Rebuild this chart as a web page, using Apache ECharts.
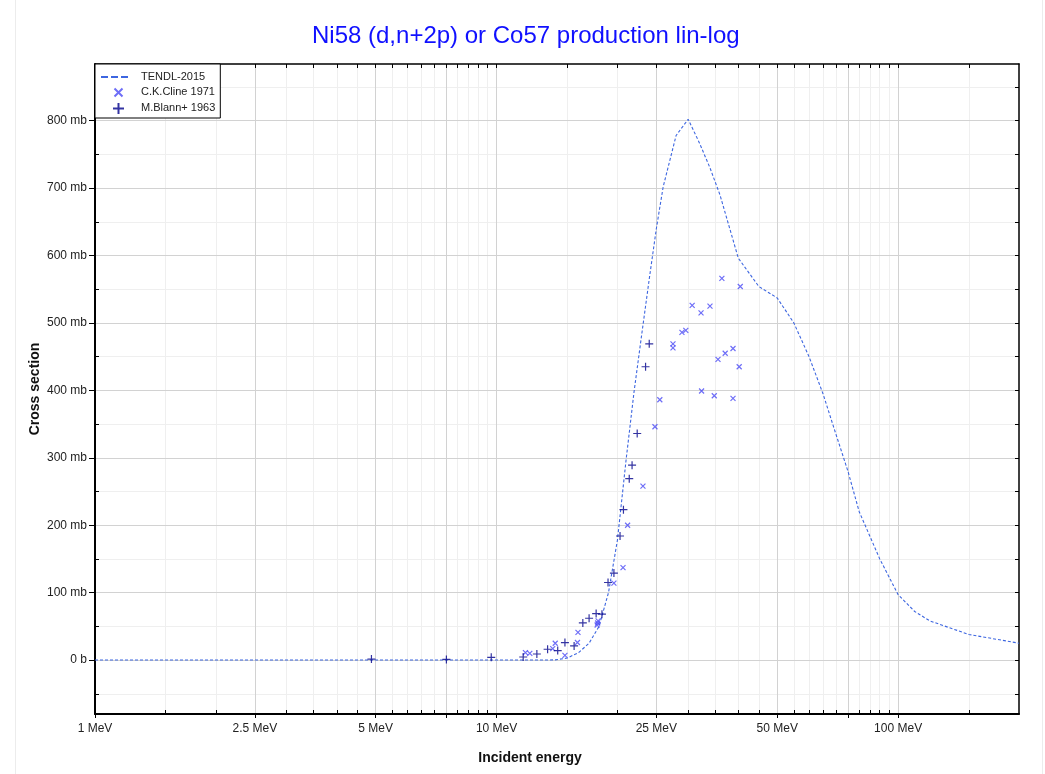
<!DOCTYPE html>
<html>
<head>
<meta charset="UTF-8">
<script src="https://cdn.jsdelivr.net/npm/echarts@6/dist/echarts.min.js"></script>
<style>
  html, body { margin: 0; padding: 0; background: #fff; }
  #chart { width: 1045px; height: 774px; }
</style>
</head>
<body>
<div id="chart"></div>
<script>
// TENDL-2015 evaluation: [energy MeV, cross section mb]
var tendlEnergy = [1, 2, 5, 10, 13, 14, 15, 16, 17, 18, 19, 20, 21, 22, 23, 24, 25, 26, 28, 30,
                   32, 34, 36, 40, 45, 50, 55, 60, 65, 70, 75, 80, 90, 100, 110, 120, 150, 200];
var tendlXs = [0, 0, 0, 0, 0, 0.3, 3, 11, 25, 50, 100, 178, 295, 398, 484, 565, 640, 702, 778, 802,
               767, 730, 690, 596, 554, 537, 500, 450, 395, 335, 280, 220, 150, 97, 72, 58, 38, 25];

// C.K.Cline 1971
var clineEnergy = [11.8, 12.1, 13.8, 14.0, 14.8, 15.9, 15.95, 17.8, 17.85, 17.9, 19.6, 20.65, 21.2,
                   23.15, 24.8, 25.5, 27.5, 27.5, 28.95, 29.6, 30.7, 32.3, 34.0, 32.4, 34.85,
                   35.6, 37.1, 38.8, 38.8, 40.2, 36.4, 40.45];
var clineXs = [11, 10, 17, 25, 7, 26, 41, 52, 55, 58, 114, 137, 200,
               258, 346, 386, 469, 463, 486, 489, 526, 515, 525, 399, 392,
               446, 455, 462, 388, 435, 566, 554];

// M.Blann+ 1963
var blannEnergy = [4.88, 7.5, 9.7, 11.65, 12.6, 13.4, 14.2, 14.8, 15.6, 16.4, 17.0, 17.7, 18.3,
                   18.95, 19.6, 20.3, 20.7, 21.4, 21.75, 22.4, 23.5, 24.0];
var blannXs = [1.5, 1, 4, 4.5, 9, 16, 14, 26, 21, 55, 62, 69, 68,
               115, 129, 184, 223, 269, 289, 336, 435, 469];

// axis ticks
var xLabelTicks = [1, 2.5, 5, 10, 25, 50, 100];
var xMajorTicks = [1, 2.5, 5, 7.5, 10, 25, 50, 75, 100];
var xMinorTicks = [1.5, 2, 3, 3.5, 4, 4.5, 5.5, 6, 6.5, 7, 8, 8.5, 9, 9.5,
                   15, 20, 30, 35, 40, 45, 55, 60, 65, 70, 80, 85, 90, 95, 150];
var yMajorTicks = [0, 100, 200, 300, 400, 500, 600, 700, 800];
var yMinorTicks = [-50, 50, 150, 250, 350, 450, 550, 650, 750, 850];

function pairs(xs, ys) {
  var out = [];
  for (var i = 0; i < xs.length; i++) out.push([xs[i], ys[i]]);
  return out;
}

var FONT = 'Liberation Sans, Arial, sans-serif';
var xAll = xMajorTicks.concat(xMinorTicks).sort(function (a, b) { return a - b; });
var yAll = yMajorTicks.concat(yMinorTicks).sort(function (a, b) { return a - b; });

var chart = echarts.init(document.getElementById('chart'));
var xBase = { type: 'log', logBase: 10, min: 1, max: 200, gridIndex: 0 };
var yBase = { type: 'value', min: -80, max: 884, gridIndex: 0 };

var option = {
  backgroundColor: '#fff',
  animation: false,
  title: {
    text: 'Ni58 (d,n+2p) or Co57 production lin-log',
    left: 312,
    top: 24,
    padding: 0,
    textStyle: { color: '#1010ff', fontSize: 24, fontWeight: 'normal', fontFamily: FONT }
  },
  legend: {
    left: 95,
    top: 64,
    orient: 'vertical',
    padding: [7, 5, 3, 5],
    itemGap: 2,
    itemWidth: 35,
    itemHeight: 12,
    borderColor: '#000',
    borderWidth: 1,
    backgroundColor: '#fff',
    textStyle: { fontSize: 11, color: '#222', fontFamily: FONT },
    data: [
      { name: 'TENDL-2015', icon: 'path://M0,0 M35,12 M0,5h7v2h-7z M10,5h7v2h-7z M20,5h7v2h-7z' },
      { name: 'C.K.Cline 1971', icon: 'path://M0,0 M35,12 M13.5,2.5L21.5,10.5M21.5,2.5L13.5,10.5' },
      { name: 'M.Blann+ 1963', icon: 'path://M0,0 M35,12 M17.5,1L17.5,12M12,6.5L23,6.5' }
    ]
  },
  graphic: [
    { type: 'line', shape: { x1: 15.5, y1: 0, x2: 15.5, y2: 774 }, style: { stroke: '#ececec', lineWidth: 1 }, silent: true },
    { type: 'line', shape: { x1: 1042.5, y1: 0, x2: 1042.5, y2: 774 }, style: { stroke: '#ececec', lineWidth: 1 }, silent: true }
  ],
  grid: { left: 95, right: 26, top: 64, bottom: 60, containLabel: false },
  xAxis: [
    Object.assign({}, xBase, {
      position: 'bottom',
      z: 3,
      name: 'Incident energy',
      nameLocation: 'middle',
      nameGap: 37,
      nameMoveOverlap: false,
      nameTextStyle: { fontSize: 14, fontWeight: 'bold', color: '#111', fontFamily: FONT, padding: [0, 54, 0, 0] },
      axisLine: { onZero: false, lineStyle: { color: '#000', width: 2 } },
      axisTick: { customValues: xMajorTicks, length: 4, lineStyle: { color: '#000' } },
      axisLabel: {
        customValues: xLabelTicks, margin: 9, fontSize: 12, color: '#222', fontFamily: FONT,
        formatter: function (v) { return v + ' MeV'; }
      },
      splitLine: { show: true, lineStyle: { color: '#d2d2d2', width: 1 } },
      minorTick: { show: false }
    }),
    Object.assign({}, xBase, {
      position: 'bottom',
      z: 1,
      axisLine: { show: false, onZero: false },
      axisTick: { customValues: xAll, inside: true, length: 4, lineStyle: { color: '#000' } },
      axisLabel: { show: false },
      splitLine: { show: true, lineStyle: { color: '#efefef', width: 1 } }
    }),
    Object.assign({}, xBase, {
      position: 'top',
      z: 3,
      axisLine: { onZero: false, lineStyle: { color: '#000', width: 1.5 } },
      axisTick: { customValues: xAll, inside: true, length: 4, lineStyle: { color: '#000' } },
      axisLabel: { show: false },
      splitLine: { show: false }
    })
  ],
  yAxis: [
    Object.assign({}, yBase, {
      position: 'left',
      z: 3,
      name: 'Cross section',
      nameLocation: 'middle',
      nameGap: 53,
      nameMoveOverlap: false,
      nameTextStyle: { fontSize: 14, fontWeight: 'bold', color: '#111', fontFamily: FONT },
      axisLine: { show: true, onZero: false, lineStyle: { color: '#000', width: 2 } },
      axisTick: { show: true, customValues: yMajorTicks, length: 6, lineStyle: { color: '#000' } },
      axisLabel: {
        customValues: yMajorTicks, margin: 8, fontSize: 12, color: '#222', fontFamily: FONT,
        formatter: function (v) { return v === 0 ? '0 b' : v + ' mb'; }
      },
      splitLine: { show: true, lineStyle: { color: '#d2d2d2', width: 1 } }
    }),
    Object.assign({}, yBase, {
      position: 'left',
      z: 1,
      axisLine: { show: false, onZero: false },
      axisTick: { show: true, customValues: yAll, inside: true, length: 4, lineStyle: { color: '#000' } },
      axisLabel: { show: false },
      splitLine: { show: true, lineStyle: { color: '#efefef', width: 1 } }
    }),
    Object.assign({}, yBase, {
      position: 'right',
      z: 3,
      axisLine: { show: true, onZero: false, lineStyle: { color: '#000', width: 1.5 } },
      axisTick: { show: true, customValues: yAll, inside: true, length: 4, lineStyle: { color: '#000' } },
      axisLabel: { show: false },
      splitLine: { show: false }
    })
  ],
  series: [
    {
      name: 'TENDL-2015',
      type: 'line',
      xAxisIndex: 0,
      yAxisIndex: 0,
      data: pairs(tendlEnergy, tendlXs),
      showSymbol: false,
      symbol: 'none',
      color: '#3d66e0',
      lineStyle: { color: '#3d66e0', width: 1.1, type: [3, 2] },
      z: 4
    },
    {
      name: 'C.K.Cline 1971',
      type: 'scatter',
      xAxisIndex: 0,
      yAxisIndex: 0,
      data: pairs(clineEnergy, clineXs),
      symbol: 'path://M0,0L10,10M10,0L0,10',
      symbolSize: 5,
      itemStyle: { color: 'rgba(0,0,0,0)', borderColor: '#4a4af5', borderWidth: 1.2 },
      z: 5
    },
    {
      name: 'M.Blann+ 1963',
      type: 'scatter',
      xAxisIndex: 0,
      yAxisIndex: 0,
      data: pairs(blannEnergy, blannXs),
      symbol: 'path://M5,0L5,10M0,5L10,5',
      symbolSize: 8,
      itemStyle: { color: 'rgba(0,0,0,0)', borderColor: '#00008b', borderWidth: 1.2 },
      z: 6
    }
  ]
};
chart.setOption(option);
</script>
</body>
</html>
